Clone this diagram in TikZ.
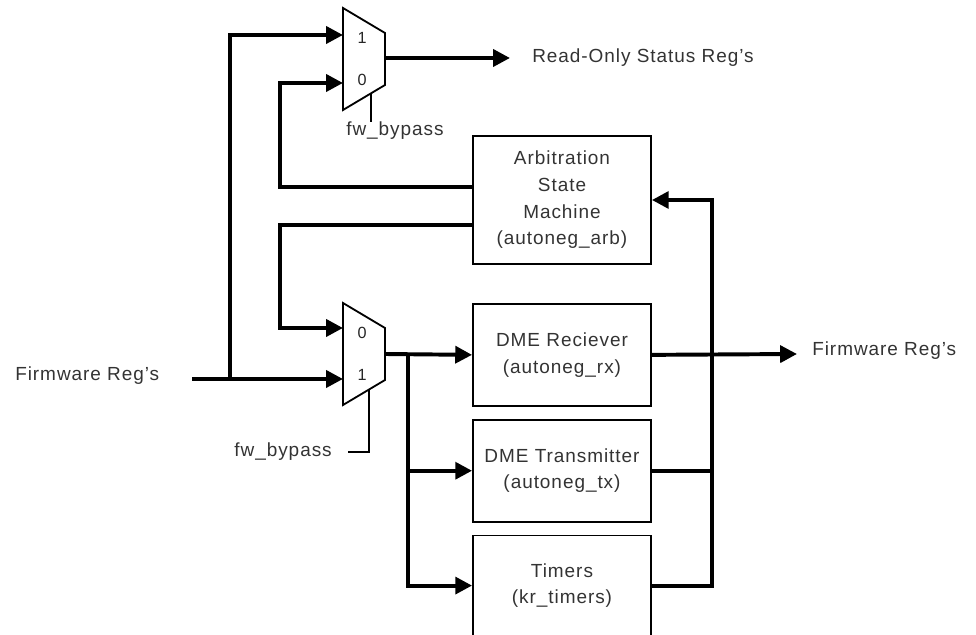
\documentclass[tikz,border=0pt]{standalone}
\usepackage{fontspec}
\setmainfont{Liberation Sans}[LetterSpace=5]
\usetikzlibrary{arrows.meta,positioning}

\tikzset{
  block/.style={draw, line width=1.3pt, minimum width=4.45cm, align=center,
    text=black!80, font=\fontsize{13.5}{19}\selectfont},
  wire/.style={line width=2.8pt},
  arr/.style={-{Triangle[length=0.42cm,width=0.42cm]}},
  sel/.style={line width=1.3pt},
  lbl/.style={inner sep=0pt, text=black!80, font=\fontsize{13.5}{19}\selectfont},
  muxlbl/.style={inner sep=0pt, text=black!85, font=\fontsize{11.5}{12}\selectfont}
}

\begin{document}
\begin{tikzpicture}[x=0.025cm,y=-0.025cm]
  \useasboundingbox (0,0) rectangle (976,635);

  % muxes
  \draw[line width=1.3pt] (343,8) -- (385,33) -- (385,85) -- (343,110) -- cycle;
  \coordinate (tmux1) at (343,35);
  \coordinate (tmux0) at (343,83);
  \coordinate (tmuxo) at (385,58);
  \node[muxlbl] (tmuxa) at (362,38) {1};
  \node[muxlbl] (tmuxb) at (362,80) {0};

  \draw[line width=1.3pt] (343,303) -- (385,328) -- (385,380) -- (343,405) -- cycle;
  \coordinate (bmux0) at (343,328);
  \coordinate (bmux1) at (343,379);
  \coordinate (bmuxo) at (385,354);
  \node[muxlbl] (bmuxa) at (362,333) {0};
  \node[muxlbl] (bmuxb) at (362,375) {1};

  % select lines
  \node[lbl] (tsel) at (395,131) {fw\_bypass};
  \coordinate (tselin) at (371,93);
  \draw[sel] (tselin) -- (tselin |- tsel.north);
  \node[lbl, anchor=east] (bsel) at (332,452) {fw\_bypass};
  \coordinate (bselin) at (369,390);
  \draw[sel] (bselin) |- ([xshift=0.4cm]bsel.east);

  % blocks
  \node[block, minimum height=3.2cm] (arb) at (562,200)
    {Arbitration\\State\\Machine\\(autoneg\_arb)};
  \node[block, minimum height=2.55cm, below=0.95cm of arb] (rx)
    {DME Reciever\\(autoneg\_rx)};
  \node[block, minimum height=2.55cm, below=0.3cm of rx] (tx)
    {DME Transmitter\\(autoneg\_tx)};
  \node[block, minimum height=2.5cm, below=0.3cm of tx] (tmr)
    {Timers\\(kr\_timers)};

  % inputs
  \node[lbl, anchor=west] (fwin) at (15,376) {Firmware Reg’s};
  \coordinate (fwsrc) at (192,379);
  \coordinate (tap) at (230,379);
  \draw[wire,arr] (fwsrc) -- (bmux1);
  \draw[wire,arr] (tap) |- (tmux1);

  % feedback from arbitration
  \coordinate (fbx) at (280,0);
  \draw[wire,arr] ([yshift=0.325cm]arb.west) -| (fbx |- tmux0) -- (tmux0);
  \draw[wire,arr] ([yshift=-0.625cm]arb.west) -| (fbx |- bmux0) -- (bmux0);

  % status output
  \coordinate (rsend) at (510,58);
  \draw[wire,arr] (tmuxo) -- (rsend);
  \node[lbl, right=0.55cm of rsend] (rostat) {Read-Only Status Reg’s};

  % fan out to blocks
  \coordinate (lbus) at (408,354);
  \draw[wire,arr] (bmuxo) -- (rx.west);
  \draw[wire,arr] (lbus) |- (tx.west);
  \draw[wire,arr] (lbus) |- (tmr.west);

  % outputs
  \coordinate (rbus) at (712,0);
  \coordinate (fwoend) at (797,354);
  \draw[wire,arr] (rx.east) -- (fwoend);
  \node[lbl, right=0.375cm of fwoend, yshift=0.08cm] (fwout) {Firmware Reg’s};
  \draw[wire] (tx.east) -- (rbus |- tx.east);
  \draw[wire,arr] (tmr.east) -| (rbus |- arb.east) -- (arb.east);
\end{tikzpicture}
\end{document}
